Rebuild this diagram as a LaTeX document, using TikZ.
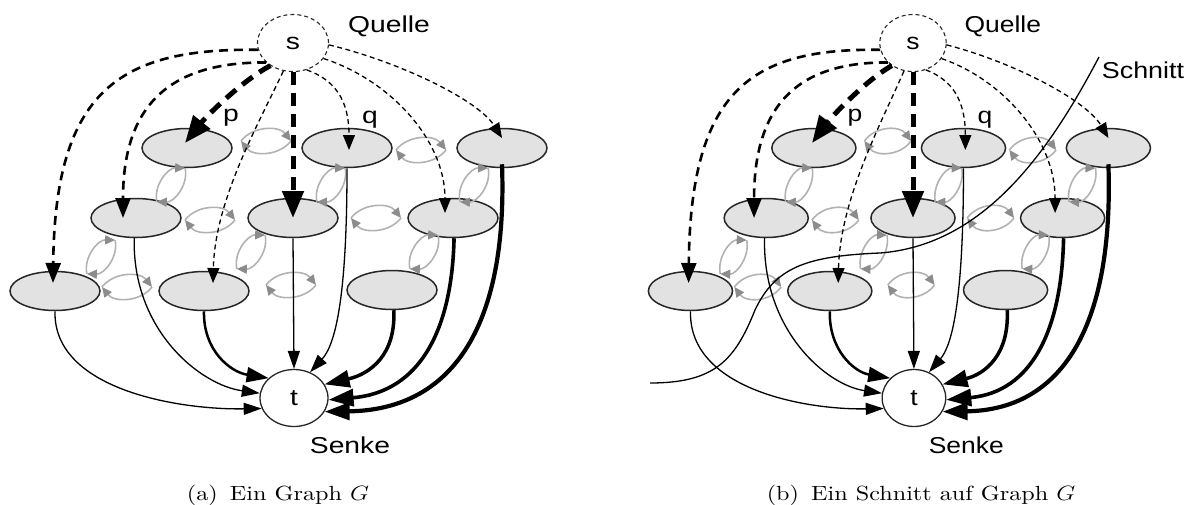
\documentclass[tikz,border=0pt]{standalone}
\usepackage{fontspec}
\usepackage{graphicx}
\newfontfamily\diagfont{Liberation Sans}
\newfontfamily\capfont{lmroman10-regular.otf}
\usetikzlibrary{arrows.meta,shapes.geometric}

\definecolor{nodefill}{gray}{0.885}
\definecolor{nodeline}{gray}{0.15}
\definecolor{flowline}{gray}{0.70}
\definecolor{flowtip}{gray}{0.55}

% widened caption text
\newcommand\capline[1]{\scalebox{1.18}[1]{#1}}

\tikzset{
  vtx/.style={ellipse, draw=nodeline, fill=nodefill, line width=1.5pt,
    minimum width=90pt, minimum height=39pt, inner sep=0pt},
  term/.style={ellipse, draw=nodeline, fill=white, line width=1.3pt,
    inner sep=0pt, font=\diagfont\fontsize{23}{23}\selectfont},
  lbl/.style={font=\diagfont\fontsize{23}{23}\selectfont, xscale=1.23,
    inner sep=0pt, anchor=base},
  caption/.style={font=\capfont\fontsize{20.5}{20.5}\selectfont,
    inner sep=0pt, anchor=base},
  thinsolid/.style={line width=1.3pt, draw=black,
    -{Triangle[length=18pt,width=12pt]}},
  midsolid/.style={line width=2.5pt, draw=black,
    -{Triangle[length=22pt,width=15pt]}},
  heavysolid/.style={line width=#1, draw=black,
    -{Triangle[length=25pt,width=17pt]}},
  thindash/.style={line width=1.3pt, dash pattern=on 5pt off 3.5pt,
    -{Triangle[length=15pt,width=12pt]}},
  middash/.style={line width=2.6pt, dash pattern=on 9pt off 6pt,
    -{Triangle[length=20pt,width=15pt]}},
  heavydash/.style={line width=5pt, dash pattern=on 13pt off 8pt,
    -{Triangle[length=27pt,width=21pt]}},
  flow/.style={draw=flowline, line width=1.6pt,
    -{Triangle[length=10pt,width=9pt,color=flowtip]}},
  cutline/.style={draw=black, line width=1.3pt},
}

% pair of opposite gray arcs (residual capacities in both directions)
\newcommand\flowpair[4]{%
  \begin{scope}[shift={(#1,#2)}, rotate=#3]
    \coordinate (fpA) at (-#4,0);
    \coordinate (fpB) at (#4,0);
    \draw[flow] (fpA) to[bend left=52] (fpB);
    \draw[flow] (fpB) to[bend left=52] (fpA);
  \end{scope}}

% the flow network: source s, sink t, nine inner vertices
\newcommand\flownet{%
  \node[term, dashed, dash pattern=on 4pt off 3pt, line width=1.1pt,
        minimum width=71pt, minimum height=57pt] (s) at (293,43) {\scalebox{1.23}[1]{s}};
  \node[term, minimum width=68pt, minimum height=57pt] (t) at (294,398) {\scalebox{1.23}[1]{t}};
  \node[vtx] (a1) at (187,148) {};
  \node[vtx] (a2) at (347,148) {};
  \node[vtx] (a3) at (502,148) {};
  \node[vtx] (b1) at (136,218) {};
  \node[vtx] (b2) at (293,218) {};
  \node[vtx] (b3) at (453,218) {};
  \node[vtx] (c1) at (55,291) {};
  \node[vtx] (c2) at (204,291) {};
  \node[vtx] (c3) at (392,290) {};
  \node[lbl] (quelle) at (389,32) {Quelle};
  \node[lbl] (senke) at (350,453) {Senke};
  \node[lbl] (lp) at (231,121) {p};
  \node[lbl] (lq) at (370,123) {q};
  % residual arcs
  \flowpair{266}{141}{0}{25}
  \flowpair{421}{150}{0}{25}
  \flowpair{210}{220}{0}{25}
  \flowpair{376}{218}{0}{25}
  \flowpair{127}{287}{0}{25}
  \flowpair{291}{285}{0}{25}
  \flowpair{171}{185}{50}{22}
  \flowpair{331}{185}{50}{22}
  \flowpair{474}{185}{50}{22}
  \flowpair{101}{257}{50}{22}
  \flowpair{251}{252}{50}{22}
  \flowpair{424}{252}{50}{22}
  % flow leaving the source
  \draw[middash] (s.191) .. controls (120,48) and (55,90) .. ([xshift=-2pt,yshift=8pt]c1.center);
  \draw[middash] (s.216) .. controls (175,62) and (123,100) .. ([xshift=-13pt]b1.center);
  \draw[heavydash] (s.225) .. controls (240,82) and (205,118) .. ([xshift=-2pt,yshift=5pt]a1.center);
  \draw[thindash] (s.251) .. controls (258,125) and (215,200) .. ([xshift=9pt,yshift=8pt]c2.center);
  \draw[heavydash] (s.south) -- (b2.center);
  \draw[thindash] (s.297) .. controls (335,80) and (349,100) .. ([xshift=2pt,yshift=-2pt]a2.center);
  \draw[thindash] (s.333) .. controls (390,80) and (445,140) .. ([xshift=-8pt,yshift=5pt]b3.center);
  \draw[thindash] (s.357) .. controls (400,62) and (478,100) .. ([yshift=10pt]a3.center);
  % flow entering the sink
  \draw[thinsolid] (c1.south) .. controls (53,390) and (180,410) .. (t.198);
  \draw[thinsolid] (b1.265) .. controls (132,330) and (200,385) .. (t.172);
  \draw[midsolid] (c2.south) .. controls (203,350) and (230,372) .. (t.142);
  \draw[thinsolid] (b2.south) -- (t.north);
  \draw[thinsolid] (a2.south) .. controls (347,300) and (335,345) .. (t.58);
  \draw[heavysolid=3.5pt] (c3.275) .. controls (396,355) and (370,374) .. (t.24);
  \draw[heavysolid=3.6pt] (b3.273) .. controls (452,330) and (420,392) .. (t.357);
  \draw[heavysolid=4.2pt] ([yshift=4pt]a3.south) .. controls (508,330) and (450,410) .. (t.336);
}

\begin{document}
\begin{tikzpicture}[x=1pt, y=-1pt]
  \useasboundingbox (0,0) rectangle (1189,504);

  % (a) the graph
  \begin{scope}[name prefix=L-]
    \flownet
  \end{scope}
  \node[caption] (capA) at (278,500) {\capline{(a)\enspace Ein Graph $G$}};

  % (b) the same graph with a cut
  \begin{scope}[shift={(913,0)}, xscale=0.935, shift={(-293,0)},
                transform shape, name prefix=R-]
    \flownet
  \end{scope}
  \coordinate (cutTop) at (1099,57);
  \coordinate (cutEnd) at (650,383);
  \draw[cutline] (cutTop) .. controls (1050,150) and (985,245) .. (880,253)
    .. controls (805,256) and (775,268) .. (755,310)
    .. controls (735,360) and (715,383) .. (cutEnd);
  \node[lbl, xscale=0.95] (schnitt) at (1143,78) {Schnitt};
  \node[caption] (capB) at (921,500) {\capline{(b)\enspace Ein Schnitt auf Graph $G$}};
\end{tikzpicture}
\end{document}
